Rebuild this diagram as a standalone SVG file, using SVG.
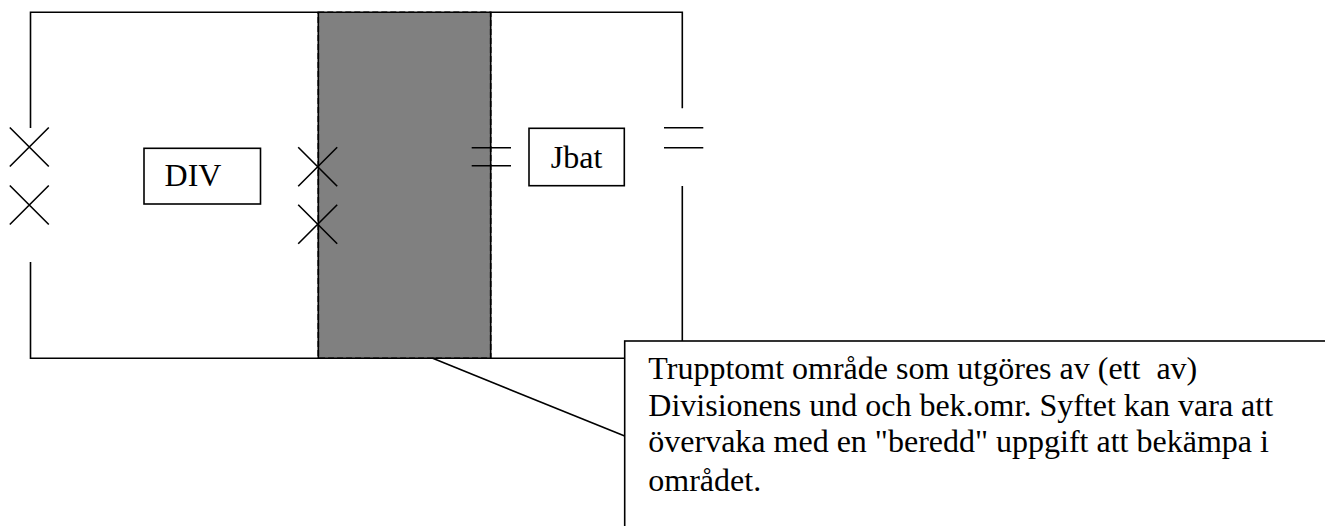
<svg xmlns="http://www.w3.org/2000/svg" width="1325" height="526" viewBox="0 0 1325 526">
<style>
.ln{stroke:#000;stroke-width:1.6;fill:none}
.box{stroke:#000;stroke-width:1.6;fill:#fff}
.t{font-family:"Liberation Serif","Times New Roman",serif;font-size:32px;fill:#000;white-space:pre}
</style>
<defs>
<g id="xm"><path class="ln" d="M-19.5,-19.5 L19.5,19.5 M19.5,-19.5 L-19.5,19.5"/></g>
</defs>
<rect width="1325" height="526" fill="#fff"/>
<g id="area">
<rect x="318.3" y="12.3" width="172.4" height="346" fill="#808080" stroke="#000" stroke-width="1.6" stroke-dasharray="6,3"/>
<line class="ln" x1="318.3" y1="12.3" x2="318.3" y2="358.3" stroke-width="2.2"/>
<line class="ln" x1="490.7" y1="12.3" x2="490.7" y2="358.3" stroke-width="2.2"/>
</g>
<g id="connectors">
<path class="ln" d="M30.5,128 L30.5,12.3 L682.3,12.3 L682.3,108.3"/>
<path class="ln" d="M30.5,262 L30.5,358.3 L640,358.3"/>
<path class="ln" d="M682.3,186 L682.3,345"/>
<path class="ln" d="M664,127.7 H703.3 M664,147.7 H703.3"/>
<path class="ln" d="M471.7,147.7 H511 M471.7,165.7 H511"/>
<use href="#xm" x="29.3" y="147"/>
<use href="#xm" x="29.3" y="205"/>
<use href="#xm" x="317.7" y="166.7"/>
<use href="#xm" x="317.7" y="224.3"/>
<line class="ln" x1="432.7" y1="358.3" x2="624.7" y2="436"/>
</g>
<g id="div">
<rect class="box" x="144" y="148.3" width="116.5" height="55.7"/>
<text class="t" x="193" y="185.7" text-anchor="middle" font-size="31">DIV</text>
</g>
<g id="jbat">
<rect class="box" x="529" y="128.3" width="95.3" height="57.4"/>
<text class="t" x="576.5" y="168.3" text-anchor="middle">Jbat</text>
</g>
<g id="callout">
<rect class="box" x="624.7" y="341" width="720" height="200" stroke-width="2"/>
<text class="t" x="648.3" y="379" xml:space="preserve">Trupptomt område som utgöres av (ett  av)</text>
<text class="t" x="648.3" y="416">Divisionens und och bek.omr. Syftet kan vara att</text>
<text class="t" x="648.3" y="452">övervaka med en "beredd" uppgift att bekämpa i</text>
<text class="t" x="648.3" y="491">området.</text>
</g>
</svg>
